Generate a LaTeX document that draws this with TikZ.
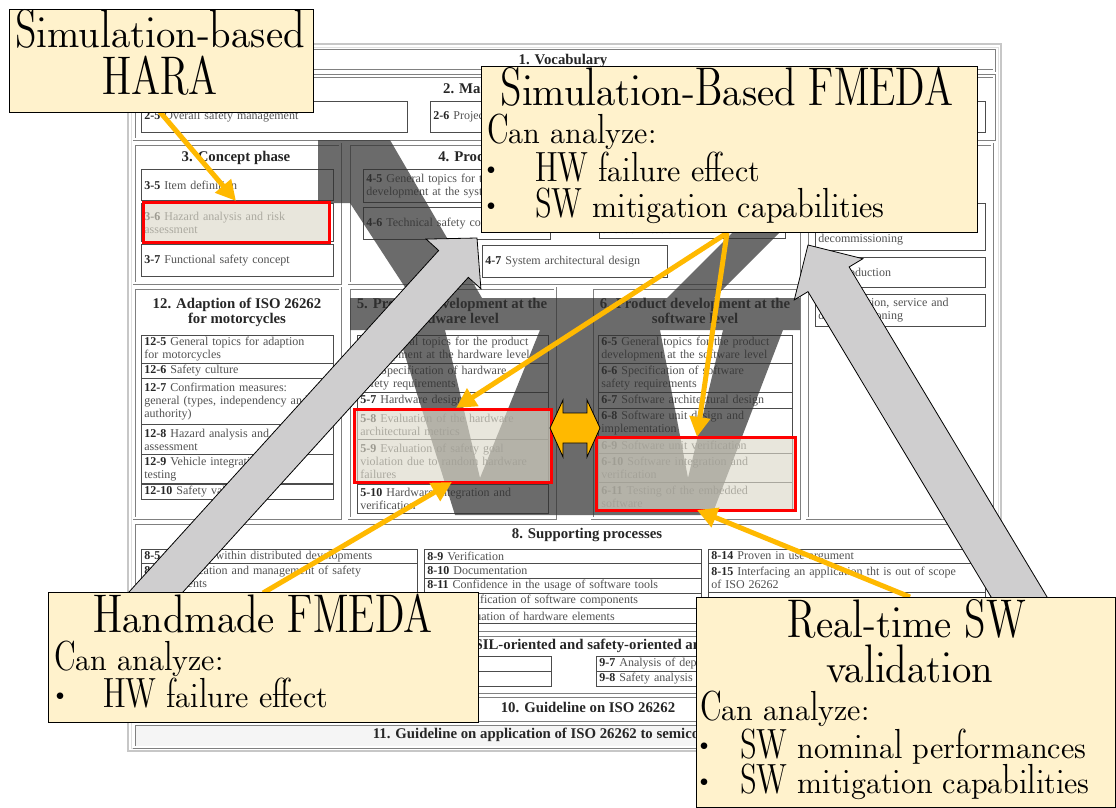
\documentclass[tikz,border=0pt]{standalone}
\usepackage{fontspec}
\usetikzlibrary{arrows.meta}
\newfontfamily\isofont{Liberation Serif}
\newfontfamily\dunh{lmromandunh10-regular.otf}
\definecolor{callfill}{HTML}{FFF2CC}
\definecolor{gold}{RGB}{255,185,0}
\definecolor{beige}{HTML}{DCD9CA}
\definecolor{arrowgray}{HTML}{CFCECF}
\tikzset{
  sec/.style={draw=black!50, double=white, double distance=1.8pt, line width=0.6pt},
  sub/.style={draw=black!70, line width=0.8pt, fill=white, anchor=north west,
    inner xsep=3pt, inner ysep=0pt, align=left,
    font=\isofont\fontsize{12}{13}\selectfont, text=black!68},
  sectitle/.style={font=\isofont\bfseries\fontsize{14.8}{16}\selectfont,
    text=black!85, anchor=base, inner sep=0pt},
  hilite/.style={draw=red, line width=3pt, fill=beige, fill opacity=0.65},
  vshade/.style={fill=black!80, fill opacity=0.72},
  blockarrow/.style={fill=arrowgray, draw=black, line width=0.8pt, line join=miter},
  goldarrow/.style={draw=gold, line width=5pt, -{Triangle[length=20pt,width=20pt]}},
  dblarrow/.style={fill=gold, draw=black, line width=0.8pt},
  callout/.style={fill=callfill, draw=black, line width=0.8pt, anchor=north west, inner sep=0pt},
  ctitle/.style={font=\dunh\fontsize{38.7}{40}\selectfont, anchor=base, inner sep=0pt},
  cbody/.style={font=\dunh\fontsize{30}{32}\selectfont, anchor=base west, inner sep=0pt},
  cdot/.style={font=\dunh\fontsize{17}{18}\selectfont, anchor=center, inner sep=0pt},
}
\newcommand\nb[1]{{\bfseries\color{black!85}#1}}
% sub-clause box: name, left, top, width, height, text
\newcommand\isobox[6]{%
  \pgfmathsetmacro\isotw{#4-6}%
  \node[sub, minimum width=#4, minimum height=#5, text width=\isotw pt] (#1) at (#2,#3) {#6};}

\begin{document}
\begin{tikzpicture}[x=1pt,y=-1pt]
\useasboundingbox (0,0) rectangle (1116,808);

% ---------- overview sheet ----------
\draw[black!22, line width=1.5pt, fill=white] (128,44) rectangle (1001,751);
\draw[black!12, line width=0.8pt] (131,47) rectangle (998,748);

\draw[sec] (134,51) rectangle (994,71);
\draw[sec] (134,76) rectangle (994,139);
\draw[sec] (134,144) rectangle (340,283);
\draw[sec] (349,144) rectangle (799,283);
\draw[sec] (807,144) rectangle (992,518);
\draw[sec] (134,288) rectangle (340,518);
\draw[sec] (349,288) rectangle (555,518);
\draw[sec] (592,288) rectangle (799,518);
\draw[sec] (134,523) rectangle (994,630);
\draw[sec] (134,635) rectangle (994,692);
\draw[sec] (134,696) rectangle (994,720);
\draw[sec, fill=black!4] (134,724) rectangle (994,747);

% part titles
\node[sectitle] (t1) at (563,65) {1. Vocabulary};
\node[sectitle] (t2) at (555,93) {2. Management of functional safety};
\node[sectitle] (t3) at (236,161) {3. Concept phase};
\node[sectitle] (t4) at (573,161) {4. Product development at the system level};
\node[sectitle] (t12a) at (237,308) {12. Adaption of ISO 26262};
\node[sectitle] (t12b) at (237,323) {for motorcycles};
\node[sectitle] (t5a) at (452,308) {5. Product development at the};
\node[sectitle] (t5b) at (452,323) {hardware level};
\node[sectitle] (t6a) at (695,308) {6. Product development at the};
\node[sectitle] (t6b) at (695,323) {software level};
\node[sectitle] (t8) at (587,538) {8. Supporting processes};
\node[sectitle] (t9) at (593,649) {9. ASIL-oriented and safety-oriented analyses};
\node[sectitle] (t10) at (588,712) {10. Guideline on ISO 26262};
\node[sectitle] (t11) at (564,738) {11. Guideline on application of ISO 26262 to semiconductors};

% clauses
\isobox{b25}{141}{101}{266}{31}{\nb{2-5} Overall safety management}
\isobox{b26}{430}{101}{262}{31}{\nb{2-6} Project dependent safety management}
\isobox{b27}{700}{101}{285}{31}{}
\isobox{b35}{141}{169}{192}{31}{\nb{3-5} Item definition}
\isobox{b36}{141}{203}{192}{38}{\nb{3-6} Hazard analysis and risk\\assessment}
\isobox{b37}{141}{244}{192}{32}{\nb{3-7} Functional safety concept}
\isobox{b45}{363}{169}{187}{33}{\nb{4-5} General topics for the product\\development at the system level}
\isobox{b46}{363}{207}{187}{32}{\nb{4-6} Technical safety concept}
\isobox{b47}{482}{245}{185}{32}{\nb{4-7} System architectural design}
\isobox{b48a}{599}{169}{186}{32}{}
\isobox{b48}{599}{206}{186}{32}{\nb{4-8} System and item integration\\and verification}
\isobox{b75}{815}{203}{170}{47}{\nb{7-5} Planning for production,\\operation, service and\\decommissioning}
\isobox{b76}{815}{257}{170}{30}{\nb{7-6} Production}
\isobox{b77}{815}{294}{170}{32}{\nb{7-7} Operation, service and\\decommissioning}
\isobox{b125}{141}{335}{192}{28}{\nb{12-5} General topics for adaption\\for motorcycles}
\isobox{b126}{141}{363}{192}{15}{\nb{12-6} Safety culture}
\isobox{b127}{141}{378}{192}{46}{\nb{12-7} Confirmation measures:\\general (types, independency and\\authority)}
\isobox{b128}{141}{424}{192}{30}{\nb{12-8} Hazard analysis and risk\\assessment}
\isobox{b129}{141}{454}{192}{29}{\nb{12-9} Vehicle integration and\\testing}
\isobox{b1210}{141}{484}{192}{15}{\nb{12-10} Safety validation}
\isobox{b55}{357}{335}{191}{28}{\nb{5-5} General topics for the product\\development at the hardware level}
\isobox{b56}{357}{363}{191}{29}{\nb{5-6} Specification of hardware\\safety requirements}
\isobox{b57}{357}{392}{191}{16}{\nb{5-7} Hardware design}
\isobox{b58}{357}{409}{191}{30}{\nb{5-8} Evaluation of the hardware\\architectural metrics}
\isobox{b59}{357}{439}{191}{43}{\nb{5-9} Evaluation of safety goal\\violation due to random hardware\\failures}
\isobox{b510}{357}{484}{191}{29}{\nb{5-10} Hardware integration and\\verification}
\isobox{b65}{598}{335}{194}{28}{\nb{6-5} General topics for the product\\development at the software level}
\isobox{b66}{598}{363}{194}{29}{\nb{6-6} Specification of software\\safety requirements}
\isobox{b67}{598}{392}{194}{16}{\nb{6-7} Software architectural design}
\isobox{b68}{598}{408}{194}{29}{\nb{6-8} Software unit design and\\implementation}
\isobox{b69}{598}{437}{194}{16}{\nb{6-9} Software unit verification}
\isobox{b610}{598}{453}{194}{29}{\nb{6-10} Software integration and\\verification}
\isobox{b611}{598}{482}{194}{28}{\nb{6-11} Testing of the embedded\\software}
\isobox{b85}{141}{549}{276}{14}{\nb{8-5} Interfaces within distributed developments}
\isobox{b86}{141}{563}{276}{29}{\nb{8-6} Specification and management of safety\\requirements}
\isobox{b87}{141}{592}{276}{15}{}
\isobox{b88}{141}{607}{276}{15}{}
\isobox{b89}{424}{549}{277}{14}{\nb{8-9} Verification}
\isobox{b810}{424}{563}{277}{15}{\nb{8-10} Documentation}
\isobox{b811}{424}{578}{277}{15}{\nb{8-11} Confidence in the usage of software tools}
\isobox{b812}{424}{593}{277}{15}{\nb{8-12} Qualification of software components}
\isobox{b813}{424}{608}{277}{15}{\nb{8-13} Evaluation of hardware elements}
\isobox{b814}{708}{549}{277}{14}{\nb{8-14} Proven in use argument}
\isobox{b815}{708}{563}{277}{29}{\nb{8-15} Interfacing an application tht is out of scope\\of ISO 26262}
\isobox{b816}{708}{592}{277}{30}{}
\isobox{b95}{330}{656}{221}{15}{}
\isobox{b96}{330}{671}{221}{15}{}
\isobox{b97}{596}{656}{210}{15}{\nb{9-7} Analysis of dependent failures}
\isobox{b98}{596}{671}{210}{15}{\nb{9-8} Safety analysis}

% ---------- V-model overlay ----------
\fill[vshade]
  (318,140) -- (390,140) -- (482,298) -- (412,298) -- (350,203) -- (318,203) -- cycle
  (667,298) -- (714,298) -- (822,190) -- (775,190) -- cycle
  (350,298) rectangle (800,330)
  (397,330) -- (445,330) -- (480,478) -- (540,330) -- (660,330) -- (688,478)
    -- (723,330) -- (783,330) -- (712,515) -- (455,515) -- cycle;

% ---------- highlighted clauses ----------
\draw[hilite] (143,202) rectangle (329,242);
\draw[hilite] (354,409) rectangle (551,482);
\draw[hilite] (596,437) rectangle (795,510);

% ---------- flow block arrows ----------
\draw[blockarrow, shift={(477,238)}, rotate=47.8]
  (0,0) -- (-35,37) -- (-35,20) -- (-545,20) -- (-545,-20) -- (-35,-20) -- (-35,-37) -- cycle;
\draw[blockarrow, shift={(808,245)}, rotate=120.95]
  (0,0) -- (-40,40) -- (-40,24) -- (-480,24) -- (-480,-24) -- (-40,-24) -- (-40,-40) -- cycle;

% ---------- pointers ----------
\coordinate (g1s) at (160,112);
\coordinate (g1e) at (236,201);
\coordinate (g2s) at (727,233);
\coordinate (g2e) at (456,408);
\coordinate (g3e) at (697,437);
\coordinate (g4s) at (263,593);
\coordinate (g4e) at (452,482);
\coordinate (g5s) at (910,597);
\coordinate (g5e) at (697,510);
\draw[goldarrow] (g1s) -- (g1e);
\draw[goldarrow] (g2s) -- (g2e);
\draw[goldarrow] (g2s) -- (g3e);
\draw[goldarrow] (g4s) -- (g4e);
\draw[goldarrow] (g5s) -- (g5e);

% double arrow between the hardware and software highlights
\draw[dblarrow] (550,428) -- (563,400) -- (563,413) -- (587,413) -- (587,400) -- (600,428)
  -- (587,457) -- (587,443) -- (563,443) -- (563,457) -- cycle;

% ---------- callouts ----------
\node[callout, minimum width=304, minimum height=103] (hara) at (9,9) {};
\node[ctitle] (haraA) at (160,48) {Simulation-based};
\node[ctitle] (haraB) at (160,95) {HARA};

\node[callout, minimum width=496, minimum height=166] (simf) at (481,66) {};
\node[ctitle] (simfT) at (727,105) {Simulation-Based FMEDA};
\node[cbody] (simfC) at (487,143) {Can analyze:};
\node[cdot] (simfD1) at (491,171) {\textbullet};
\node[cbody] (simfL1) at (535,181) {HW failure effect};
\node[cdot] (simfD2) at (491,207) {\textbullet};
\node[cbody] (simfL2) at (535,217) {SW mitigation capabilities};

\node[callout, minimum width=430, minimum height=130] (hand) at (48,592) {};
\node[ctitle] (handT) at (263,632) {Handmade FMEDA};
\node[cbody] (handC) at (54,670) {Can analyze:};
\node[cdot] (handD1) at (60,697) {\textbullet};
\node[cbody] (handL1) at (103,707) {HW failure effect};

\node[callout, minimum width=419, minimum height=210] (rtv) at (696,597) {};
\node[ctitle] (rtvA) at (907,637) {Real-time SW};
\node[ctitle] (rtvB) at (910,682) {validation};
\node[cbody] (rtvC) at (700,720) {Can analyze:};
\node[cdot] (rtvD1) at (704,747) {\textbullet};
\node[cbody] (rtvL1) at (740,758) {SW nominal performances};
\node[cdot] (rtvD2) at (704,783) {\textbullet};
\node[cbody] (rtvL2) at (740,793) {SW mitigation capabilities};
\end{tikzpicture}
\end{document}
